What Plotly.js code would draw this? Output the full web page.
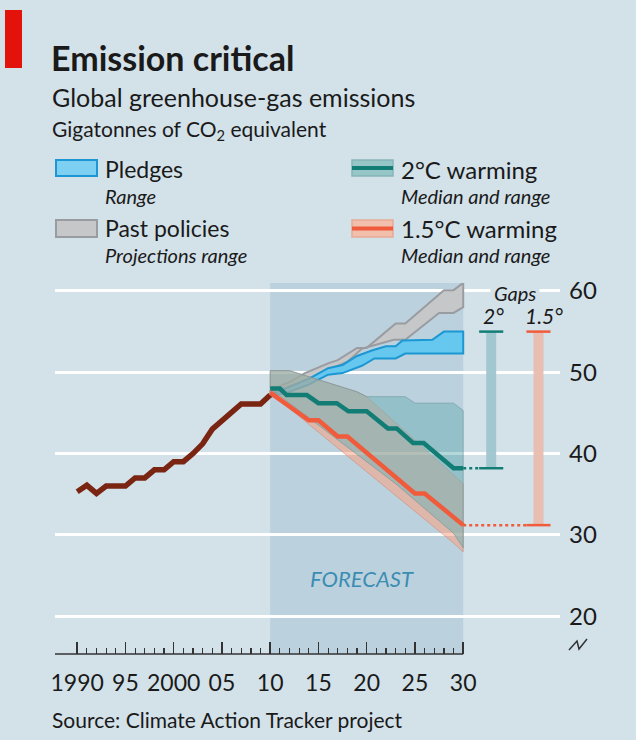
<!DOCTYPE html>
<html><head><meta charset="utf-8">
<script src="https://cdn.plot.ly/plotly-3.0.1.min.js"></script>
<style>html,body{margin:0;padding:0;background:#d3e1e9;}#chart{width:636px;height:740px;}</style>
</head><body><div id="chart"></div>
<script>
// ---------- DATA ----------
const histYears  = [1990,1991,1992,1993,1994,1995,1996,1997,1998,1999,2000,2001,2002,2003,2004,2005,2006,2007,2008,2009,2010];
const histValues = [35.3,36.1,35.1,36.0,36.0,36.0,37.0,37.0,38.0,38.0,39.0,39.0,40.0,41.2,43.0,44.1,45.1,46.1,46.1,46.1,47.2];

const pastTopYears     = [2010,2012,2013.6,2016,2017,2019,2020,2023,2024,2028,2029,2030];
const pastTopValues    = [47.8,48.8,49.9,51.1,51.5,53.0,53.0,56.0,56.0,60.1,60.1,61.0];
const pastBottomYears  = [2010,2013,2016,2018,2019.5,2022.8,2024,2027.5,2029,2030];
const pastBottomValues = [47.5,48.7,50.3,51.3,52.9,54.0,54.0,57.3,57.3,58.0];

const pledgeTopYears     = [2010,2012,2014,2016,2017.5,2019,2020.6,2022,2023,2023.7,2026.8,2028,2030];
const pledgeTopValues    = [47.2,48.2,49.2,50.5,50.9,52.0,52.7,53.2,53.2,53.9,54.0,55.0,55.0];
const pledgeBottomYears  = [2010,2012,2014,2016,2017.5,2019.5,2020.8,2023,2024,2030];
const pledgeBottomValues = [47.0,47.6,48.5,49.7,49.9,50.8,51.7,51.7,52.3,52.3];

const w2TopYears     = [2010,2012,2019,2020,2024,2025,2029,2030];
const w2TopValues    = [50.2,50.2,47.6,47.0,47.0,46.2,46.2,45.3];
const w2BottomYears  = [2010,2023,2029,2030];
const w2BottomValues = [48.0,36.3,30.2,28.4];
const w2MedianYears  = [2010,2011,2011.7,2013.8,2015,2016.9,2018.1,2020,2022.2,2023.1,2024.8,2025.9,2029,2030];
const w2MedianValues = [48.0,48.0,47.2,47.2,46.2,46.2,45.2,45.2,43.1,43.1,41.3,41.3,38.2,38.2];

const w15TopYears     = [2010,2012,2019,2020,2030];
const w15TopValues    = [50.2,50.2,47.6,47.0,36.3];
const w15BottomYears  = [2010,2029,2030];
const w15BottomValues = [47.5,29.0,27.9];
const w15MedianYears  = [2010,2014,2015,2017,2018,2025,2026,2030];
const w15MedianValues = [47.5,44.1,44.1,42.1,42.1,35.1,35.1,31.2];

const xTickVals = [1990,1995,2000,2005,2010,2015,2020,2025,2030];
const xTickText = ['1990','95','2000','05','10','15','20','25','30'];
const minorYears = [];
for (let y = 1990; y <= 2030; y++) minorYears.push(y);
const yTickVals = [20,30,40,50,60];

// ---------- STYLE ----------
const BG = '#d3e1e9';
const FORECAST_BG = '#bcd1de';
const FONT = 'Lato, "Open Sans", "DejaVu Sans", sans-serif';
const TXT = '#1a1a1a';

// pixel helpers for decorations (plot area: x 55..560, y 283..654)
const L = 55, R = 560, T = 283, B = 654;
const px = v => (v - L) / (R - L);
const py = v => (B - v) / (B - T);

function band(topX, topY, botX, botY, fill, edge, ew) {
  return {
    x: topX.concat(botX.slice().reverse()).concat([topX[0]]),
    y: topY.concat(botY.slice().reverse()).concat([topY[0]]),
    type: 'scatter', mode: 'lines', fill: 'toself', fillcolor: fill,
    line: {color: edge, width: ew}, hoverinfo: 'skip'
  };
}
function line(xs, ys, color, width, dash) {
  return {x: xs, y: ys, type: 'scatter', mode: 'lines',
    line: {color: color, width: width, dash: dash || 'solid'}, hoverinfo: 'skip'};
}

const last = a => a[a.length - 1];
const gapTop = last(pledgeTopValues);
const gap2Bottom = last(w2MedianValues);
const gap15Bottom = last(w15MedianValues);
const gx2 = 2032.9, gx15 = 2037.8, gHalf = 1.25;

const traces = [
  band(pastTopYears, pastTopValues, pastBottomYears, pastBottomValues, '#c5c7c9', '#999da1', 2),
  band(pledgeTopYears, pledgeTopValues, pledgeBottomYears, pledgeBottomValues, '#66c8ef', '#1b97d3', 2),
  band(w15TopYears, w15TopValues, w15BottomYears, w15BottomValues, 'rgba(250,160,128,0.55)', 'rgba(205,140,125,0.6)', 1),
  band(w2TopYears, w2TopValues, w2BottomYears, w2BottomValues, 'rgba(112,178,182,0.52)', 'rgba(110,150,155,0.6)', 1),
  line(histYears, histValues, '#7a2412', 5.5),
  line(w2MedianYears, w2MedianValues, '#127d75', 4.5),
  line(w15MedianYears, w15MedianValues, '#f05b3c', 4.5),
  // gaps
  line([gx2, gx2], [gap2Bottom, gapTop], 'rgba(158,197,207,0.95)', 10),
  line([gx15, gx15], [gap15Bottom, gapTop], 'rgba(232,188,174,0.95)', 10),
  line([gx2 - gHalf, gx2 + gHalf], [gapTop, gapTop], '#127d75', 2.5),
  line([gx2 - gHalf, gx2 + gHalf], [gap2Bottom, gap2Bottom], '#127d75', 2.5),
  line([gx15 - gHalf, gx15 + gHalf], [gapTop, gapTop], '#f05b3c', 2.5),
  line([gx15 - gHalf, gx15 + gHalf], [gap15Bottom, gap15Bottom], '#f05b3c', 2.5),
  line([last(w2MedianYears), gx2 - gHalf], [gap2Bottom, gap2Bottom], '#127d75', 2.5, 'dot'),
  line([last(w15MedianYears), gx15 - gHalf], [gap15Bottom, gap15Bottom], '#f05b3c', 2.5, 'dot')
];

function ann(text, xpx, ypx, size, extra) {
  return Object.assign({
    text: text, xref: 'paper', yref: 'paper', x: px(xpx), y: py(ypx),
    xanchor: 'left', yanchor: 'middle', showarrow: false,
    font: {family: FONT, size: size, color: TXT}
  }, extra || {});
}

const annotations = [
  ann('<b>Emission critical</b>', 49, 57, 34),
  ann('Global greenhouse-gas emissions', 50, 97, 25),
  ann('Gigatonnes of CO<sub>2</sub> equivalent', 50, 130, 21),
  ann('Pledges', 103, 169, 23),
  ann('<i>Range</i>', 103, 196, 20),
  ann('Past policies', 103, 228, 23),
  ann('<i>Projections range</i>', 103, 255, 20),
  ann('2°C warming', 399, 169, 24),
  ann('<i>Median and range</i>', 399, 196, 20),
  ann('1.5°C warming', 399, 228, 24),
  ann('<i>Median and range</i>', 399, 255, 20),
  ann('<i>FORECAST</i>', 362, 578, 22, {xanchor: 'center', font: {family: FONT, size: 22, color: '#3b8db2'}}),
  ann('<i>Gaps</i>', 515, 293, 20, {xanchor: 'center', bgcolor: BG, borderpad: 3}),
  ann('<i>2°</i>', 493, 315, 21, {xanchor: 'center'}),
  ann('<i>1.5°</i>', 544, 315, 21, {xanchor: 'center'}),
  ann('Source: Climate Action Tracker project', 50, 719, 21)
];

const shapes = [
  {type: 'rect', xref: 'x', yref: 'paper', x0: 2010, x1: 2030, y0: 0, y1: 1,
   fillcolor: FORECAST_BG, line: {width: 0}, layer: 'below'},
  {type: 'line', xref: 'x', yref: 'paper', x0: 1987.7, x1: 2030, y0: 0, y1: 0,
   line: {color: '#333', width: 1.5}},
  // red tag
  {type: 'rect', xref: 'paper', yref: 'paper', x0: px(5), x1: px(22), y0: py(68), y1: py(10),
   fillcolor: '#e3120b', line: {width: 0}},
  // legend swatches
  {type: 'rect', xref: 'paper', yref: 'paper', x0: px(56), x1: px(97), y0: py(176), y1: py(160),
   fillcolor: '#7dd0f1', line: {color: '#1b97d3', width: 2}},
  {type: 'rect', xref: 'paper', yref: 'paper', x0: px(56), x1: px(97), y0: py(237), y1: py(220),
   fillcolor: '#c5c7c9', line: {color: '#999da1', width: 2}},
  {type: 'rect', xref: 'paper', yref: 'paper', x0: px(352), x1: px(393), y0: py(176), y1: py(160),
   fillcolor: '#97c6c8', line: {color: '#86b5b8', width: 1.5}},
  {type: 'line', xref: 'paper', yref: 'paper', x0: px(352), x1: px(393), y0: py(168), y1: py(168),
   line: {color: '#127d75', width: 4}},
  {type: 'rect', xref: 'paper', yref: 'paper', x0: px(352), x1: px(393), y0: py(237), y1: py(220),
   fillcolor: '#f1bfab', line: {color: '#e6ab95', width: 1.5}},
  {type: 'line', xref: 'paper', yref: 'paper', x0: px(352), x1: px(393), y0: py(228.5), y1: py(228.5),
   line: {color: '#f05b3c', width: 4}},
  // axis break mark
  {type: 'path', xref: 'paper', yref: 'paper',
   path: 'M ' + px(569) + ',' + py(650) + ' L ' + px(577) + ',' + py(641) + ' L ' + px(579) + ',' + py(649) + ' L ' + px(587) + ',' + py(639),
   line: {color: '#333', width: 1.5}}
];

const layout = {
  width: 636, height: 740,
  margin: {l: L, r: 636 - R, t: T, b: 740 - B, pad: 0},
  paper_bgcolor: BG, plot_bgcolor: BG,
  showlegend: false,
  font: {family: FONT, color: TXT},
  xaxis: {
    range: [1987.7, 2040.03], tickmode: 'array', tickvals: xTickVals, ticktext: xTickText,
    ticks: 'inside', ticklen: 12, tickwidth: 1.5, tickcolor: '#333',
    showgrid: false, zeroline: false, showline: false,
    tickfont: {family: FONT, size: 23, color: TXT}, ticklabelstandoff: 13,
    minor: {tickmode: 'array', tickvals: minorYears, ticks: 'inside', ticklen: 6, tickwidth: 1.2, tickcolor: '#333', showgrid: false}
  },
  yaxis: {
    range: [15.35, 60.98], side: 'right', tickmode: 'array', tickvals: yTickVals,
    showgrid: true, gridcolor: '#ffffff', gridwidth: 3, zeroline: false, showline: false,
    ticks: '', tickfont: {family: FONT, size: 24, color: TXT}, ticklabelstandoff: 8
  },
  shapes: shapes,
  annotations: annotations
};

Plotly.newPlot('chart', traces, layout, {staticPlot: true, displayModeBar: false});
</script>
</body></html>
